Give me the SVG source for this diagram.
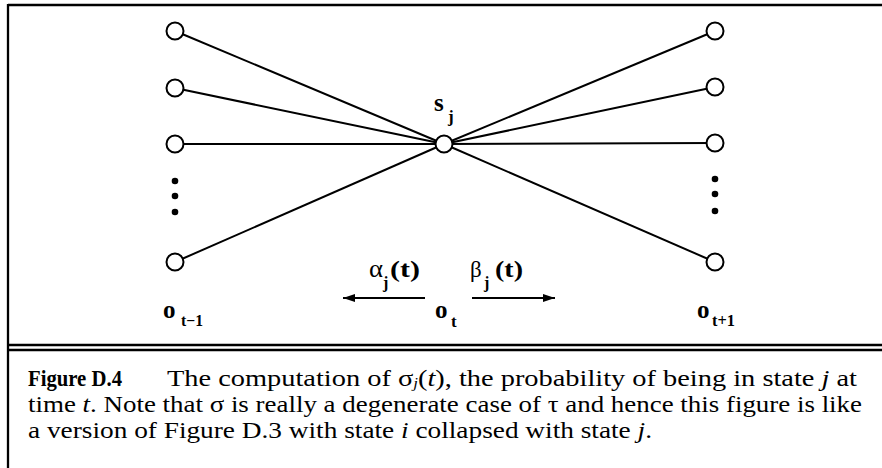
<svg xmlns="http://www.w3.org/2000/svg" width="882" height="468" viewBox="0 0 882 468">
<style>
.frame{stroke:#000;stroke-width:2.3;fill:none}
.edge{stroke:#000;stroke-width:2;fill:none}
.node{fill:#fff;stroke:#000;stroke-width:2}
.dot{fill:#000}
.lbl{font-family:"Liberation Serif","Times New Roman",serif;font-weight:bold;fill:#000}
.greek{font-family:"Liberation Serif","Times New Roman",serif;font-weight:normal;fill:#000}
.cap{font-family:"Liberation Serif","Times New Roman",serif;font-size:23.5px;fill:#000}
.it{font-style:italic}
</style>
<defs>
<marker id="ah" viewBox="0 0 12 8" refX="12" refY="4" markerWidth="12" markerHeight="8" markerUnits="userSpaceOnUse" orient="auto">
<path d="M0,0 L12,4 L0,8 Z" fill="#000"/>
</marker>
</defs>
<rect width="882" height="468" fill="#fff"/>
<g id="frame">
<line class="frame" x1="8" y1="5" x2="882" y2="5"/>
<line class="frame" x1="8" y1="4" x2="8" y2="468"/>
<line class="frame" x1="8" y1="345" x2="882" y2="345"/>
<line class="frame" x1="8" y1="350" x2="882" y2="350"/>
</g>
<g id="connectors">
<line class="edge" x1="175" y1="31" x2="444" y2="144"/>
<line class="edge" x1="175" y1="88" x2="444" y2="144"/>
<line class="edge" x1="175" y1="144" x2="444" y2="144"/>
<line class="edge" x1="175" y1="262" x2="444" y2="144"/>
<line class="edge" x1="715" y1="31" x2="444" y2="144"/>
<line class="edge" x1="715" y1="87" x2="444" y2="144"/>
<line class="edge" x1="715" y1="143" x2="444" y2="144"/>
<line class="edge" x1="715" y1="262" x2="444" y2="144"/>
<line class="edge" x1="425" y1="298" x2="343" y2="298" marker-end="url(#ah)"/>
<line class="edge" x1="472" y1="298" x2="555" y2="298" marker-end="url(#ah)"/>
</g>
<g id="left-column">
<circle class="node" cx="175" cy="31" r="8.5"/>
<circle class="node" cx="175" cy="88" r="8.5"/>
<circle class="node" cx="175" cy="144" r="8.5"/>
<circle class="dot" cx="175" cy="181" r="3.3"/>
<circle class="dot" cx="175" cy="196" r="3.3"/>
<circle class="dot" cx="175" cy="212" r="3.3"/>
<circle class="node" cx="175" cy="262" r="8.5"/>
<text class="lbl" x="163" y="318" font-size="25">o</text>
<text class="lbl" x="181" y="326" font-size="16" textLength="22" lengthAdjust="spacingAndGlyphs">t−1</text>
</g>
<g id="center-node">
<circle class="node" cx="444" cy="144" r="8.5"/>
<text class="lbl" x="434" y="111" font-size="25">s</text>
<text class="lbl" x="448" y="122" font-size="17">j</text>
<text class="lbl" x="435" y="318" font-size="25">o</text>
<text class="lbl" x="451" y="327" font-size="17">t</text>
</g>
<g id="right-column">
<circle class="node" cx="715" cy="31" r="8.5"/>
<circle class="node" cx="715" cy="87" r="8.5"/>
<circle class="node" cx="715" cy="143" r="8.5"/>
<circle class="dot" cx="715" cy="179" r="3.3"/>
<circle class="dot" cx="715" cy="194" r="3.3"/>
<circle class="dot" cx="715" cy="211" r="3.3"/>
<circle class="node" cx="715" cy="262" r="8.5"/>
<text class="lbl" x="697" y="318" font-size="25">o</text>
<text class="lbl" x="712" y="326" font-size="16" textLength="23" lengthAdjust="spacingAndGlyphs">t+1</text>
</g>
<g id="arrow-labels">
<text class="greek" x="369" y="277" font-size="25" textLength="14" lengthAdjust="spacingAndGlyphs">α</text>
<text class="lbl" x="383" y="288" font-size="16">j</text>
<text class="lbl" x="390" y="277" font-size="23" textLength="30" lengthAdjust="spacingAndGlyphs">(t)</text>
<text class="greek" x="470" y="277" font-size="23">β</text>
<text class="lbl" x="484" y="288" font-size="16">j</text>
<text class="lbl" x="495" y="277" font-size="23" textLength="28" lengthAdjust="spacingAndGlyphs">(t)</text>
</g>
<g id="caption">
<text class="cap" x="28" y="386" font-weight="bold" font-size="22" textLength="94" lengthAdjust="spacingAndGlyphs">Figure D.4</text>
<text class="cap" x="167" y="386" textLength="690" lengthAdjust="spacingAndGlyphs">The computation of σ<tspan class="it" font-size="14" dy="2">j</tspan><tspan dy="-2">(</tspan><tspan class="it">t</tspan>), the probability of being in state <tspan class="it">j</tspan> at</text>
<text class="cap" x="28" y="412" textLength="834" lengthAdjust="spacingAndGlyphs">time <tspan class="it">t</tspan>. Note that σ is really a degenerate case of τ and hence this figure is like</text>
<text class="cap" x="28" y="438" textLength="624" lengthAdjust="spacingAndGlyphs">a version of Figure D.3 with state <tspan class="it">i</tspan> collapsed with state <tspan class="it">j</tspan>.</text>
</g>
</svg>
